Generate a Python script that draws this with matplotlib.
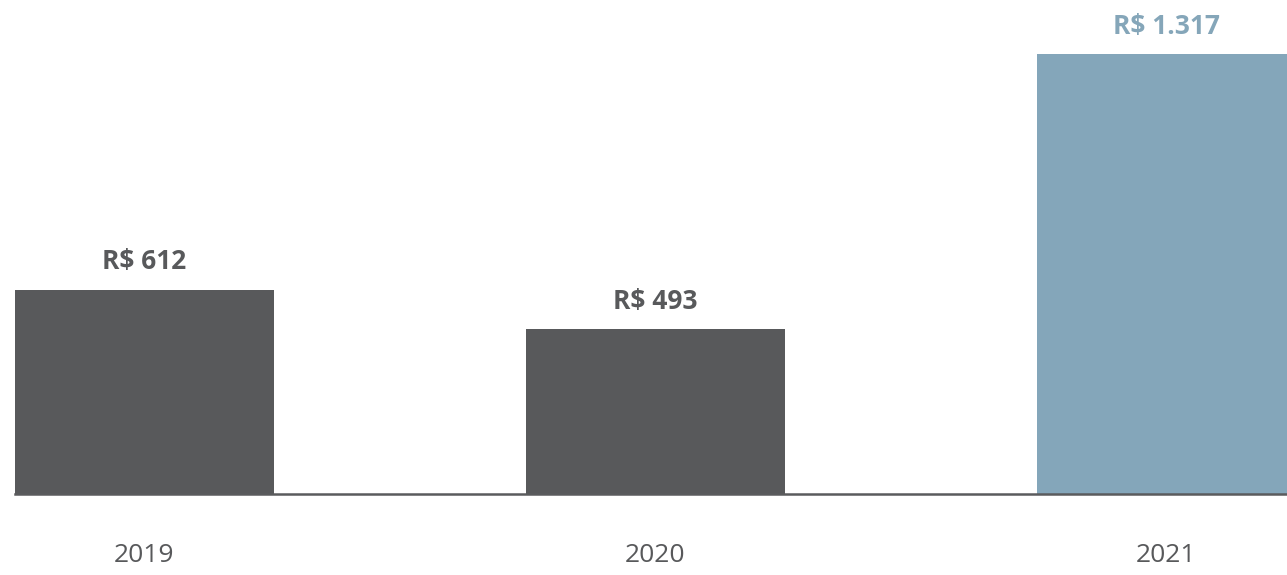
import matplotlib.pyplot as plt

# dados
anos = ['2019', '2020', '2021']
valores = [612, 493, 1317]
rotulos = ['R$ 612', 'R$ 493', 'R$ 1.317']
cores = ['#58595b', '#58595b', '#84a6ba']
cores_texto = ['#58595b', '#58595b', '#85a6b9']

plt.rcParams['font.family'] = ['Open Sans', 'DejaVu Sans']

fig = plt.figure(figsize=(12.87, 5.75), dpi=100)
# eixo posicionado em pixels: base em y=494, inicio em x=15
ax = fig.add_axes([15 / 1287, (575 - 494) / 575, 1 - 15 / 1287, 494 / 575])

x = range(len(anos))
ax.bar(x, valores, width=0.506, color=cores, zorder=2)

for xi, v, txt, c in zip(x, valores, rotulos, cores_texto):
    ax.annotate(txt, (xi, v), xytext=(0, 15), textcoords='offset points',
                ha='center', va='baseline', fontsize=19, fontweight='bold', color=c)

ax.set_xlim(-0.253, 2.236)
ax.set_ylim(0, 1480)

ax.set_xticks(list(x))
ax.set_xticklabels(anos, fontsize=19, color='#58595b')
ax.tick_params(axis='x', length=0, pad=35)
ax.set_yticks([])

for s in ['top', 'left', 'right']:
    ax.spines[s].set_visible(False)
ax.spines['bottom'].set_color('#5a5b5d')
ax.spines['bottom'].set_linewidth(1.8)
ax.spines['bottom'].set_zorder(3)

fig.savefig('out.png', dpi=100)
